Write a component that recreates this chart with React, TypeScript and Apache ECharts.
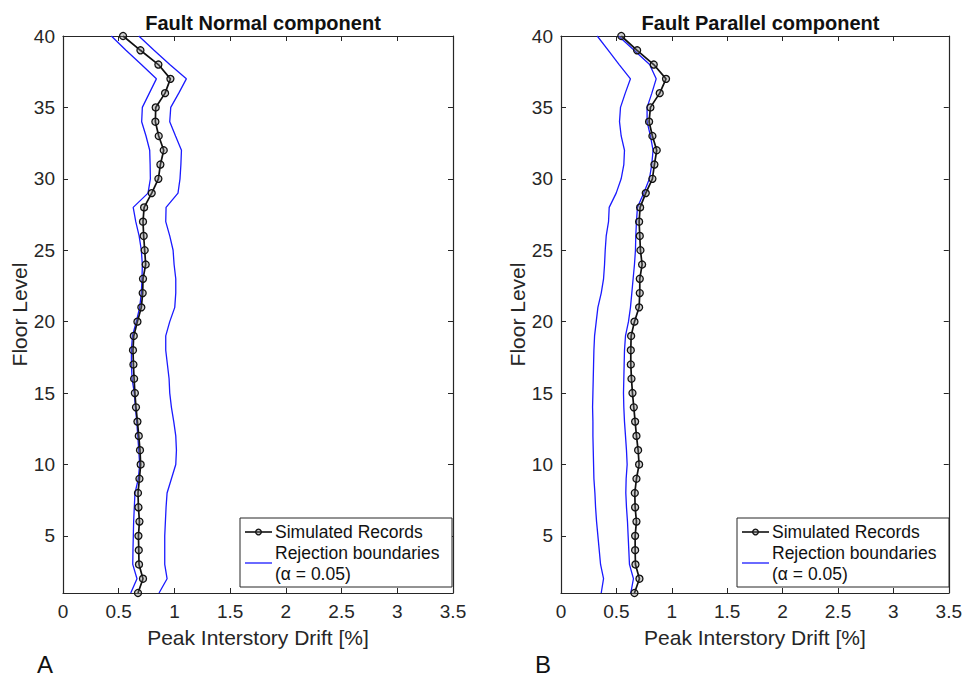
import React, { useEffect, useRef } from "react";
import * as echarts from "echarts";

// Floor levels (y) shared by every profile
const FLOORS = [
  1, 2, 3, 4, 5, 6, 7, 8, 9, 10, 11, 12, 13, 14, 15, 16, 17, 18, 19, 20,
  21, 22, 23, 24, 25, 26, 27, 28, 29, 30, 31, 32, 33, 34, 35, 36, 37, 38, 39, 40,
];

// Fault Normal component: peak interstory drift [%] per floor (floor 1 -> 40)
const FN_SIM = [
  0.673, 0.718, 0.682, 0.68, 0.677, 0.686, 0.677, 0.673, 0.686, 0.697,
  0.691, 0.68, 0.668, 0.655, 0.645, 0.638, 0.632, 0.628, 0.635, 0.668,
  0.703, 0.715, 0.718, 0.742, 0.733, 0.724, 0.718, 0.728, 0.796, 0.856,
  0.874, 0.904, 0.859, 0.829, 0.832, 0.916, 0.964, 0.856, 0.695, 0.539,
];
const FN_LOW = [
  0.608, 0.664, 0.626, 0.628, 0.631, 0.634, 0.64, 0.646, 0.676, 0.688,
  0.68, 0.671, 0.662, 0.65, 0.64, 0.62, 0.614, 0.614, 0.623, 0.658,
  0.688, 0.703, 0.709, 0.712, 0.703, 0.683, 0.653, 0.63, 0.763, 0.784,
  0.782, 0.778, 0.745, 0.706, 0.712, 0.775, 0.838, 0.703, 0.565, 0.434,
];
const FN_UP = [
  0.862, 0.934, 0.913, 0.913, 0.913, 0.919, 0.925, 0.934, 0.973, 1.012,
  1.018, 1.012, 0.994, 0.973, 0.958, 0.952, 0.937, 0.922, 0.922, 0.958,
  1.003, 1.012, 1.012, 0.997, 0.988, 0.958, 0.922, 0.925, 1.032, 1.05,
  1.058, 1.063, 1.01, 0.958, 0.967, 1.039, 1.107, 0.958, 0.817, 0.68,
];

// Fault Parallel component
const FP_SIM = [
  0.663, 0.708, 0.672, 0.669, 0.669, 0.681, 0.669, 0.666, 0.681, 0.705,
  0.696, 0.681, 0.669, 0.657, 0.645, 0.636, 0.63, 0.63, 0.633, 0.663,
  0.705, 0.711, 0.711, 0.732, 0.717, 0.711, 0.705, 0.714, 0.765, 0.825,
  0.843, 0.864, 0.825, 0.795, 0.807, 0.891, 0.948, 0.837, 0.687, 0.544,
];
const FP_LOW = [
  0.363, 0.384, 0.357, 0.345, 0.333, 0.321, 0.312, 0.306, 0.297, 0.294,
  0.291, 0.288, 0.288, 0.285, 0.288, 0.291, 0.294, 0.297, 0.303, 0.318,
  0.333, 0.363, 0.384, 0.393, 0.399, 0.408, 0.429, 0.435, 0.498, 0.543,
  0.567, 0.573, 0.543, 0.528, 0.537, 0.58, 0.627, 0.525, 0.427, 0.327,
];
const FP_UP = [
  0.63, 0.654, 0.618, 0.612, 0.606, 0.6, 0.591, 0.585, 0.588, 0.597,
  0.591, 0.582, 0.573, 0.567, 0.564, 0.567, 0.57, 0.573, 0.582, 0.609,
  0.627, 0.639, 0.651, 0.663, 0.672, 0.675, 0.681, 0.69, 0.747, 0.798,
  0.819, 0.831, 0.807, 0.777, 0.777, 0.82, 0.859, 0.8, 0.66, 0.519,
];

const Y_TICKS = [5, 10, 15, 20, 25, 30, 35, 40];
const PANEL_TITLES = ["Fault Normal component", "Fault Parallel component"];
const PANEL_TAGS = ["A", "B"];
const X_NAME = "Peak Interstory Drift [%]";
const Y_NAME = "Floor Level";
const LEGEND_SIM = "Simulated Records";
const LEGEND_BOUND = "Rejection boundaries";
const LEGEND_ALPHA = "(\u03b1 = 0.05)";

const FONT = '"Liberation Sans", Arial, Helvetica, sans-serif';
const AXIS = "#262626";
const BLUE = "#1a1aff";

const pairs = (xs: number[]) => xs.map((x, i) => [x, FLOORS[i]]);

const GRIDS = [
  { left: 63, top: 36, width: 390, height: 557 },
  { left: 561, top: 36, width: 389, height: 557 },
];

export default function App() {
  const ref = useRef<HTMLDivElement>(null);

  useEffect(() => {
    if (!ref.current) return;
    const chart = echarts.init(ref.current, null, { renderer: "svg" });

    const xAxes: any[] = [];
    const yAxes: any[] = [];
    GRIDS.forEach((_, g) => {
      const baseX = {
        type: "value",
        gridIndex: g,
        min: 0,
        max: 3.5,
        interval: 0.5,
        splitLine: { show: false },
        axisLine: { show: true, onZero: false, lineStyle: { color: AXIS, width: 1.2 } },
        axisTick: { show: true, inside: true, length: 5, lineStyle: { color: AXIS, width: 1 } },
      };
      xAxes.push({
        ...baseX,
        position: "bottom",
        axisLabel: { color: AXIS, fontSize: 19, fontFamily: FONT, margin: 9 },
        name: X_NAME,
        nameLocation: "middle",
        nameGap: 34,
        nameTextStyle: { color: AXIS, fontSize: 21, fontFamily: FONT },
      });
      xAxes.push({ ...baseX, position: "top", axisLabel: { show: false } });

      const baseY = {
        type: "value",
        gridIndex: g,
        min: 1,
        max: 40,
        splitLine: { show: false },
        axisLine: { show: true, onZero: false, lineStyle: { color: AXIS, width: 1.2 } },
        axisTick: {
          show: true,
          inside: true,
          length: 5,
          customValues: Y_TICKS,
          lineStyle: { color: AXIS, width: 1 },
        },
      };
      yAxes.push({
        ...baseY,
        position: "left",
        axisLabel: { color: AXIS, fontSize: 19, fontFamily: FONT, margin: 8, customValues: Y_TICKS },
        name: Y_NAME,
        nameLocation: "middle",
        nameGap: 33,
        nameRotate: 90,
        nameTextStyle: { color: AXIS, fontSize: 21, fontFamily: FONT },
      });
      yAxes.push({ ...baseY, position: "right", axisLabel: { show: false } });
    });

    const panels = [
      { sim: FN_SIM, low: FN_LOW, up: FN_UP },
      { sim: FP_SIM, low: FP_LOW, up: FP_UP },
    ];

    const series: any[] = [];
    panels.forEach((p, g) => {
      const axes = { xAxisIndex: g * 2, yAxisIndex: g * 2 };
      const bound = (data: number[], name: string) => ({
        type: "line",
        name,
        ...axes,
        data: pairs(data),
        showSymbol: false,
        symbol: "none",
        lineStyle: { color: BLUE, width: 1.3 },
        z: 2,
      });
      series.push(bound(p.low, LEGEND_BOUND));
      series.push(bound(p.up, LEGEND_BOUND));
      series.push({
        type: "line",
        name: LEGEND_SIM,
        ...axes,
        data: pairs(p.sim),
        symbol: "circle",
        symbolSize: 7,
        lineStyle: { color: "#111", width: 1.7 },
        itemStyle: { color: "rgba(120,120,120,0.35)", borderColor: "#111", borderWidth: 1.3 },
        z: 3,
      });
    });

    // Legend boxes drawn in the lower-right corner of each panel
    const graphics: any[] = [];
    GRIDS.forEach((gr, g) => {
      const right = gr.left + gr.width;
      const bx = right - 213;
      const by = 518;
      graphics.push(
        {
          type: "rect",
          shape: { x: bx, y: by, width: 212, height: 69 },
          style: { fill: "#fff", stroke: AXIS, lineWidth: 1 },
          z: 10,
        },
        {
          type: "line",
          shape: { x1: bx + 5, y1: by + 14, x2: bx + 32, y2: by + 14 },
          style: { stroke: "#111", lineWidth: 1.6 },
          z: 11,
        },
        {
          type: "circle",
          shape: { cx: bx + 18.5, cy: by + 14, r: 2.8 },
          style: { fill: "rgba(120,120,120,0.35)", stroke: "#111", lineWidth: 1.3 },
          z: 12,
        },
        {
          type: "line",
          shape: { x1: bx + 5, y1: by + 45, x2: bx + 32, y2: by + 45 },
          style: { stroke: BLUE, lineWidth: 1.3 },
          z: 11,
        },
        {
          type: "text",
          x: bx + 35,
          y: by + 14,
          style: { text: LEGEND_SIM, fill: "#111", font: `17.5px ${FONT}`, textVerticalAlign: "middle" },
          z: 11,
        },
        {
          type: "text",
          x: bx + 35,
          y: by + 35,
          style: { text: LEGEND_BOUND, fill: "#111", font: `17.5px ${FONT}`, textVerticalAlign: "middle" },
          z: 11,
        },
        {
          type: "text",
          x: bx + 35,
          y: by + 56,
          style: { text: LEGEND_ALPHA, fill: "#111", font: `17.5px ${FONT}`, textVerticalAlign: "middle" },
          z: 11,
        },
        {
          type: "text",
          x: gr.left - 26,
          y: 664,
          style: {
            text: PANEL_TAGS[g],
            fill: "#111",
            font: `24px ${FONT}`,
            textVerticalAlign: "middle",
          },
        }
      );
    });

    chart.setOption({
      animation: false,
      backgroundColor: "#fff",
      title: GRIDS.map((gr, g) => ({
        text: PANEL_TITLES[g],
        left: gr.left + gr.width / 2,
        top: 8,
        textAlign: "center",
        textStyle: { color: "#111", fontSize: 20, fontWeight: "bold", fontFamily: FONT },
      })),
      grid: GRIDS.map((gr) => ({ ...gr, containLabel: false })),
      xAxis: xAxes,
      yAxis: yAxes,
      series,
      graphic: graphics,
    });

    return () => chart.dispose();
  }, []);

  return <div ref={ref} style={{ width: 965, height: 676, position: "absolute", left: 0, top: 0 }} />;
}
